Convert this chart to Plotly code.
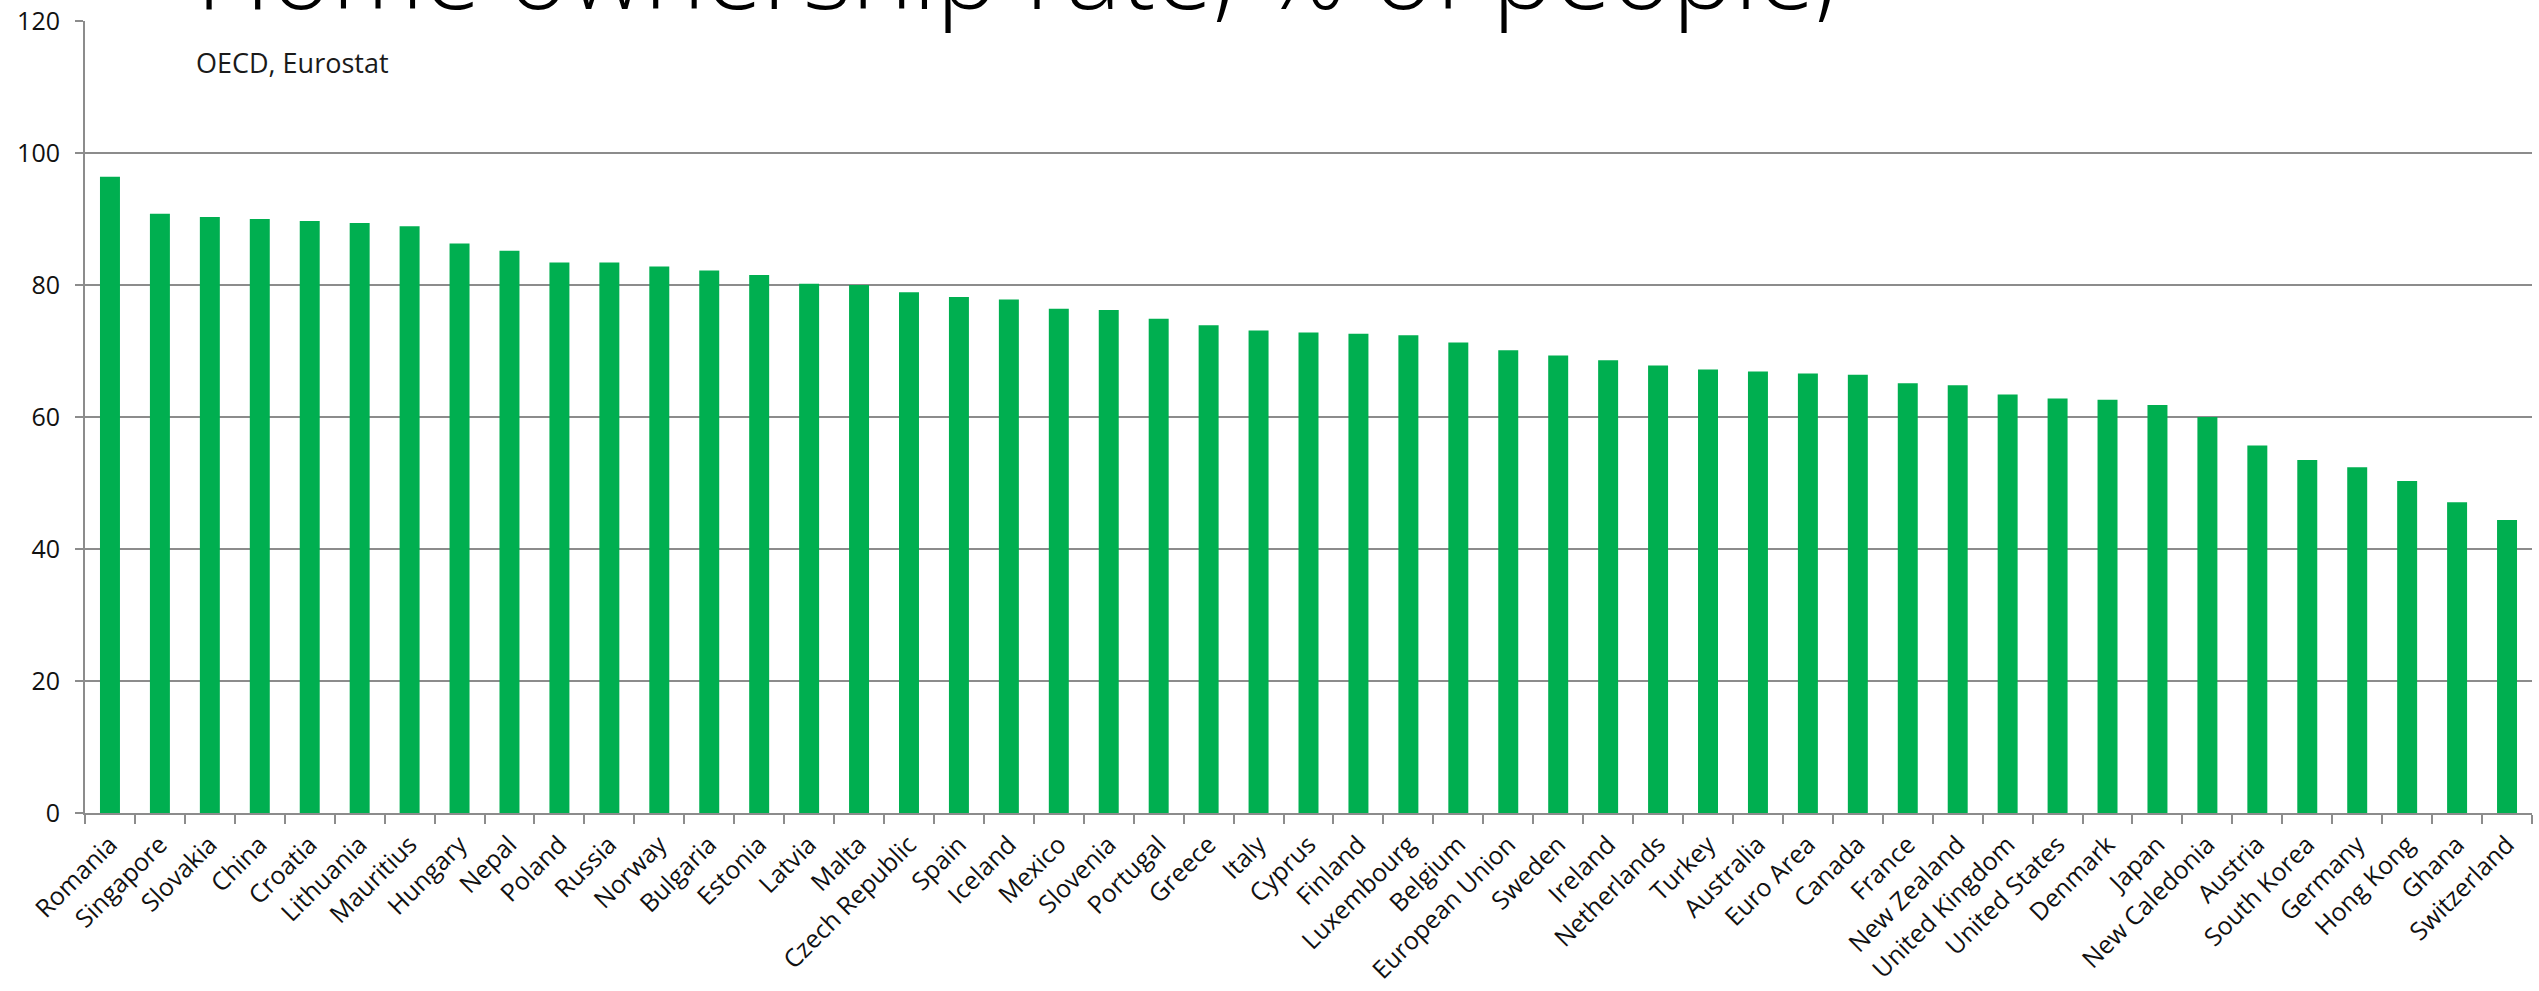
import plotly.graph_objects as go

# Home ownership rate by country (% of people)
countries = [
    "Romania", "Singapore", "Slovakia", "China", "Croatia", "Lithuania", "Mauritius",
    "Hungary", "Nepal", "Poland", "Russia", "Norway", "Bulgaria", "Estonia", "Latvia",
    "Malta", "Czech Republic", "Spain", "Iceland", "Mexico", "Slovenia", "Portugal",
    "Greece", "Italy", "Cyprus", "Finland", "Luxembourg", "Belgium", "European Union",
    "Sweden", "Ireland", "Netherlands", "Turkey", "Australia", "Euro Area", "Canada",
    "France", "New Zealand", "United Kingdom", "United States", "Denmark", "Japan",
    "New Caledonia", "Austria", "South Korea", "Germany", "Hong Kong", "Ghana",
    "Switzerland",
]
ownership_rate = [
    96.4, 90.8, 90.3, 90.0, 89.7, 89.4, 88.9,
    86.3, 85.2, 83.4, 83.4, 82.8, 82.2, 81.5, 80.2,
    80.0, 78.9, 78.2, 77.8, 76.4, 76.2, 74.9,
    73.9, 73.1, 72.8, 72.6, 72.4, 71.3, 70.1,
    69.3, 68.6, 67.8, 67.2, 66.9, 66.6, 66.4,
    65.1, 64.8, 63.4, 62.8, 62.6, 61.8,
    60.0, 55.7, 53.5, 52.4, 50.3, 47.1,
    44.4,
]
y_ticks = [0, 20, 40, 60, 80, 100, 120]

title_text = "Home ownership rate, % of people,"
source_text = "OECD, Eurostat"

GREEN = "#00AF50"
GRID = "#8C8C8C"
FONT = "Open Sans"

fig = go.Figure(
    go.Bar(
        x=countries,
        y=ownership_rate,
        marker=dict(color=GREEN, line=dict(width=0)),
        hoverinfo="x+y",
    )
)

W, H = 2539, 991
M_L, M_R, M_T, M_B = 85, 7, 21, 178
plot_w = W - M_L - M_R
plot_h = H - M_T - M_B

fig.update_layout(
    width=W,
    height=H,
    margin=dict(l=M_L, r=M_R, t=M_T, b=M_B, pad=0, autoexpand=False),
    paper_bgcolor="white",
    plot_bgcolor="white",
    bargap=0.6,
    showlegend=False,
    font=dict(family=FONT, color="#1a1a1a"),
)

fig.update_xaxes(
    type="category",
    automargin=False,
    tickangle=-45,
    tickfont=dict(family=FONT, size=25, color="#111111"),
    showline=True,
    linecolor=GRID,
    linewidth=2,
    ticks="outside",
    tickson="boundaries",
    ticklen=9,
    tickwidth=2,
    tickcolor=GRID,
    showgrid=False,
    ticklabelstandoff=5,
)

fig.update_yaxes(
    range=[0, 120],
    automargin=False,
    tickvals=y_ticks,
    tickfont=dict(family=FONT, size=25, color="#111111"),
    showline=True,
    linecolor=GRID,
    linewidth=2,
    ticks="outside",
    ticklen=8,
    tickwidth=2,
    tickcolor=GRID,
    showgrid=True,
    gridcolor=GRID,
    gridwidth=2,
    zeroline=False,
    ticklabelstandoff=10,
)

# Large title sitting on the top gridline, partly above the page edge
fig.add_annotation(
    text=title_text,
    xref="paper", yref="paper",
    x=(194 - M_L) / plot_w, y=1 - 20 / plot_h,
    xanchor="left", yanchor="bottom",
    showarrow=False,
    font=dict(family=FONT, size=104, color="black", weight=300),
)

fig.add_annotation(
    text=source_text,
    xref="paper", yref="paper",
    x=(194 - M_L) / plot_w, y=1 - (63 - M_T) / plot_h,
    xanchor="left", yanchor="middle",
    showarrow=False,
    font=dict(family=FONT, size=27, color="#1a1a1a"),
)

fig.write_html("out.html")
